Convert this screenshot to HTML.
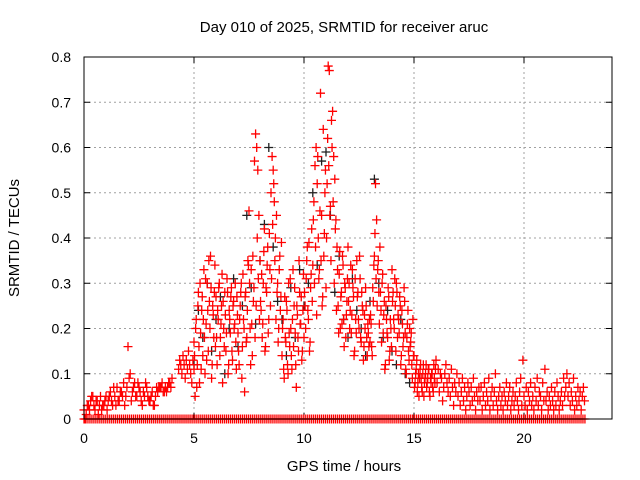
<!DOCTYPE html>
<html><head><meta charset="utf-8"><style>
body{margin:0;background:#fff}
svg{display:block;font-family:"Liberation Sans",sans-serif}
</style></head><body>
<svg id="chart" width="640" height="480" xmlns="http://www.w3.org/2000/svg">
<rect width="640" height="480" fill="#fff"/>
<text x="344" y="32" font-size="15" text-anchor="middle">Day 010 of 2025, SRMTID for receiver aruc</text>
<text x="344" y="471" font-size="15" text-anchor="middle">GPS time / hours</text>
<text transform="translate(19,238) rotate(-90)" font-size="15" text-anchor="middle">SRMTID / TECUs</text>
<g id="grid"></g>
<g id="ticks"></g>
<g id="black"></g>
<g id="red"></g>
<rect x="84" y="57" width="528" height="362" fill="none" stroke="#000" stroke-width="1"/>
</svg>
<script>
const xTicks=[0,5,10,15,20];
const yTicks=[0,0.1,0.2,0.3,0.4,0.5,0.6,0.7,0.8];
const yTickLabels=["0","0.1","0.2","0.3","0.4","0.5","0.6","0.7","0.8"];
const redSegStart=[0,0.05,4.3,5,5.025,6,6.025,7,7.025,8,8.025,9,9.025,10,10.025,11,11.025,12,12.025,13,13.025,14,14.025,15,15.025,16,17,18,19,20,21,22];
const redSegStep=[0.1,0.1,0.05,0.05,0.05,0.05,0.05,0.05,0.05,0.05,0.05,0.05,0.05,0.05,0.05,0.05,0.05,0.05,0.05,0.05,0.05,0.05,0.05,0.05,0.05,0.05,0.05,0.05,0.05,0.05,0.05,0.05];
const redSegValues=[
[0.02,0.01,0.03,0.04,0.05,0.02,0.04,0.03,0.02,0.03,0.05,0.04,0.06,0.03,0.05,0.07,0.04,0.06,0.08,0.05,0.16,0.10,0.06,0.08,0.05,0.07,0.04,0.06,0.08,0.05,0.04,0.06,0.03,0.07,0.07,0.07,0.06,0.07,0.07,0.08,0.09],
[0.00,0.03,0.02,0.05,0.03,0.04,0.01,0.05,0.03,0.04,0.02,0.05,0.04,0.07,0.03,0.04,0.06,0.05,0.03,0.07,0.09,0.04,0.07,0.05,0.08,0.06,0.03,0.05,0.07,0.04,0.05,0.03,0.05,0.06,0.07,0.08,0.06,0.06,0.08,0.07],
[0.11,0.13,0.12,0.10,0.14,0.12,0.09,0.13,0.11,0.15,0.12,0.10,0.08,0.13,0.11],
[0.17,0.05,0.22,0.12,0.28,0.08,0.19,0.24,0.14,0.33,0.10,0.21,0.30,0.15,0.26,0.36,0.09,0.25,0.18,0.34],
[0.14,0.20,0.07,0.25,0.16,0.30,0.11,0.27,0.22,0.18,0.31,0.13,0.24,0.35,0.20,0.29,0.12,0.23,0.28,0.16],
[0.27,0.12,0.22,0.30,0.18,0.25,0.08,0.20,0.28,0.15,0.31,0.10,0.24,0.19,0.29,0.13,0.26,0.21,0.17,0.27],
[0.18,0.24,0.29,0.14,0.21,0.32,0.26,0.16,0.23,0.19,0.28,0.12,0.22,0.27,0.15,0.25,0.20,0.30,0.11,0.23],
[0.19,0.12,0.25,0.30,0.16,0.22,0.06,0.28,0.18,0.35,0.46,0.20,0.33,0.14,0.26,0.57,0.63,0.60,0.55,0.45],
[0.15,0.22,0.28,0.09,0.32,0.20,0.27,0.17,0.24,0.34,0.30,0.12,0.21,0.36,0.29,0.18,0.25,0.40,0.31,0.22],
[0.35,0.24,0.18,0.30,0.42,0.16,0.28,0.38,0.22,0.33,0.50,0.58,0.55,0.48,0.40,0.45,0.30,0.20,0.36,0.27],
[0.26,0.32,0.21,0.37,0.15,0.29,0.34,0.19,0.41,0.25,0.31,0.43,0.52,0.35,0.22,0.28,0.17,0.33,0.24,0.39],
[0.14,0.22,0.09,0.18,0.26,0.12,0.30,0.16,0.20,0.11,0.33,0.25,0.19,0.07,0.23,0.15,0.28,0.21,0.13,0.24],
[0.20,0.11,0.27,0.17,0.24,0.10,0.19,0.31,0.14,0.22,0.16,0.29,0.12,0.25,0.18,0.35,0.21,0.27,0.15,0.32],
[0.18,0.25,0.31,0.38,0.22,0.15,0.29,0.42,0.34,0.48,0.56,0.60,0.52,0.40,0.33,0.72,0.45,0.27,0.36,0.50],
[0.28,0.20,0.35,0.24,0.39,0.17,0.32,0.26,0.44,0.30,0.38,0.23,0.58,0.31,0.46,0.35,0.25,0.64,0.41,0.55],
[0.29,0.52,0.78,0.77,0.47,0.66,0.68,0.58,0.53,0.44,0.38,0.25,0.32,0.20,0.28,0.36,0.22,0.30,0.18,0.26],
[0.40,0.62,0.56,0.45,0.35,0.60,0.48,0.30,0.42,0.24,0.33,0.19,0.37,0.27,0.21,0.34,0.16,0.29,0.23,0.31],
[0.38,0.30,0.24,0.19,0.33,0.27,0.15,0.22,0.35,0.28,0.20,0.31,0.17,0.25,0.13,0.23,0.29,0.18,0.21,0.16],
[0.26,0.20,0.34,0.23,0.29,0.14,0.31,0.19,0.27,0.22,0.36,0.18,0.28,0.24,0.16,0.20,0.25,0.14,0.19,0.22],
[0.17,0.21,0.14,0.26,0.36,0.52,0.44,0.33,0.28,0.38,0.24,0.30,0.19,0.26,0.12,0.22,0.18,0.27,0.15,0.20],
[0.23,0.16,0.29,0.34,0.41,0.31,0.25,0.35,0.21,0.28,0.17,0.32,0.23,0.11,0.25,0.19,0.29,0.13,0.22,0.16],
[0.33,0.28,0.20,0.25,0.30,0.18,0.22,0.27,0.12,0.24,0.16,0.29,0.19,0.10,0.21,0.15,0.20,0.17,0.12,0.22],
[0.26,0.22,0.31,0.15,0.28,0.23,0.19,0.25,0.14,0.21,0.18,0.26,0.11,0.18,0.24,0.13,0.16,0.19,0.09,0.14],
[0.14,0.08,0.11,0.06,0.10,0.09,0.12,0.07,0.10,0.05,0.09,0.12,0.08,0.11,0.06,0.09,0.10,0.07,0.12,0.08],
[0.07,0.10,0.13,0.08,0.05,0.11,0.09,0.06,0.12,0.08,0.10,0.07,0.09,0.11,0.05,0.08,0.10,0.06,0.09,0.11],
[0.13,0.08,0.11,0.06,0.10,0.09,0.04,0.07,0.10,0.12,0.08,0.06,0.09,0.05,0.11,0.07,0.03,0.08,0.06,0.10],
[0.05,0.08,0.03,0.06,0.09,0.04,0.07,0.02,0.05,0.08,0.06,0.03,0.07,0.04,0.09,0.05,0.02,0.06,0.04,0.07],
[0.04,0.07,0.02,0.05,0.08,0.03,0.06,0.04,0.09,0.02,0.05,0.07,0.03,0.06,0.10,0.04,0.02,0.05,0.07,0.03],
[0.05,0.02,0.06,0.04,0.08,0.03,0.05,0.07,0.02,0.04,0.06,0.03,0.05,0.08,0.04,0.02,0.06,0.09,0.03,0.13],
[0.05,0.03,0.07,0.02,0.06,0.04,0.08,0.03,0.05,0.02,0.07,0.04,0.09,0.03,0.06,0.05,0.02,0.08,0.04,0.11],
[0.04,0.06,0.02,0.05,0.03,0.07,0.04,0.02,0.06,0.03,0.08,0.05,0.02,0.04,0.06,0.03,0.09,0.05,0.07,0.10],
[0.05,0.08,0.03,0.06,0.04,0.09,0.02,0.05,0.03,0.07,0.04,0.06,0.02,0.05,0.07,0.04]
];
const zeroStart=0;
const zeroStep=0.09;
const zeroEnd=22.8;
const blackStart=5;
const blackStep=0.2;
const blackValues=[0.12,0.24,0.18,0.30,0.15,0.22,0.27,0.10,0.20,0.31,0.16,0.25,0.45,0.29,0.21,0.35,0.43,0.60,0.38,0.26,0.22,0.14,0.29,0.18,0.33,0.25,0.30,0.50,0.34,0.57,0.59,0.45,0.28,0.36,0.22,0.18,0.31,0.24,0.20,0.14,0.26,0.53,0.30,0.18,0.24,0.15,0.12,0.22,0.10,0.08];

const X0=84,X1=612,Y0=419,Y1=57,XMAX=24,YMAX=0.8;
const xs=v=>X0+(X1-X0)*v/XMAX;
const ys=v=>Y0-(Y0-Y1)*v/YMAX;
const NS="http://www.w3.org/2000/svg";
function mk(tag,parent){const e=document.createElementNS(NS,tag);parent.appendChild(e);return e;}
const grid=document.getElementById('grid'),ticks=document.getElementById('ticks');
xTicks.forEach((t,i)=>{
  const x=xs(t);
  if(t>0){const g=mk('line',grid);g.setAttribute('x1',x);g.setAttribute('x2',x);g.setAttribute('y1',Y1);g.setAttribute('y2',Y0);g.setAttribute('stroke','#a0a0a0');g.setAttribute('stroke-dasharray','2,3');
  
  }
  [[Y0,Y0-6],[Y1,Y1+6]].forEach(p=>{const l=mk('line',ticks);l.setAttribute('x1',x);l.setAttribute('x2',x);l.setAttribute('y1',p[0]);l.setAttribute('y2',p[1]);l.setAttribute('stroke','#000');
  
  });
  const tx=mk('text',ticks);tx.setAttribute('x',x);tx.setAttribute('y',443);tx.setAttribute('font-size','14');tx.setAttribute('text-anchor','middle');tx.textContent=String(t);
  
  
});
yTicks.forEach((t,i)=>{
  const y=ys(t);
  if(t>0&&t<YMAX){const g=mk('line',grid);g.setAttribute('x1',X0);g.setAttribute('x2',X1);g.setAttribute('y1',y);g.setAttribute('y2',y);g.setAttribute('stroke','#a0a0a0');g.setAttribute('stroke-dasharray','2,3');
  
  }
  [[X0,X0+6],[X1,X1-6]].forEach(p=>{const l=mk('line',ticks);l.setAttribute('x1',p[0]);l.setAttribute('x2',p[1]);l.setAttribute('y1',y);l.setAttribute('y2',y);l.setAttribute('stroke','#000');
  
  });
  const tx=mk('text',ticks);tx.setAttribute('x',71);tx.setAttribute('y',y+5);tx.setAttribute('font-size','14');tx.setAttribute('text-anchor','end');tx.textContent=yTickLabels[i];
  
  
});
function plus(parent,h,v,color){
  const x=xs(h),y=ys(v);
  const p=mk('path',parent);
  p.setAttribute('d',`M${x-4.5},${y}H${x+4.5}M${x},${y-4.5}V${y+4.5}`);
  p.setAttribute('stroke',color);p.setAttribute('stroke-width','1.3');p.setAttribute('fill','none');
  
  
}
const blk=document.getElementById('black'),red=document.getElementById('red');
blackValues.forEach((v,i)=>plus(blk,blackStart+i*blackStep,v,'#202020'));
for(let h=zeroStart;h<=zeroEnd;h+=zeroStep)plus(red,h,0,'#ff0000');
redSegValues.forEach((arr,s)=>arr.forEach((v,i)=>plus(red,redSegStart[s]+i*redSegStep[s],v,'#ff0000')));
</script>
</body></html>
